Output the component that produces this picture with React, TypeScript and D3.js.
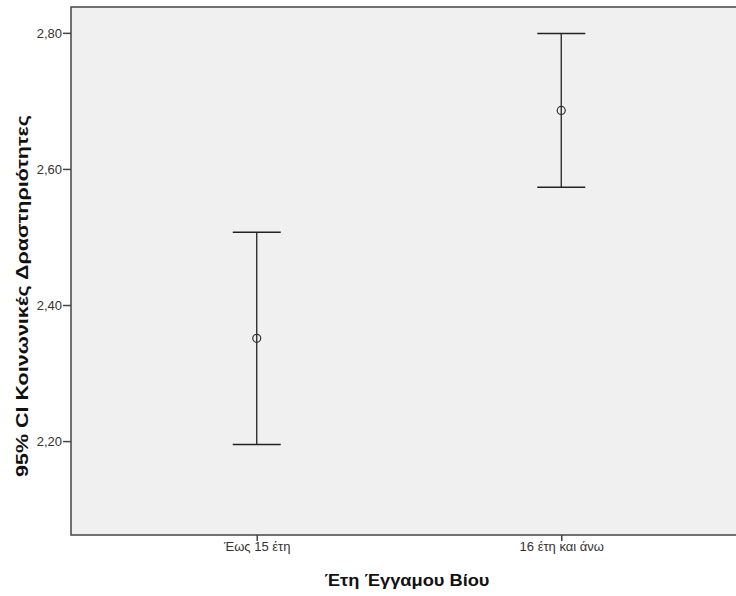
import React, { useRef, useEffect } from "react";
import * as d3 from "d3";

const categories = ["Έως 15 έτη", "16 έτη και άνω"];
const means = [2.351, 2.686];
const lower = [2.195, 2.573];
const upper = [2.507, 2.799];
const yTicks = [2.2, 2.4, 2.6, 2.8];

const App = () => {
  const svgRef = useRef<SVGSVGElement>(null);

  useEffect(() => {
    const svg = d3.select(svgRef.current);
    svg.selectAll("*").remove();

    const margin = { top: 7, left: 71, bottom: 535, right: 747 };

    const x = d3
      .scalePoint<string>()
      .domain(categories)
      .range([margin.left, margin.right])
      .padding(0.61);

    const y = d3
      .scaleLinear()
      .domain([2.062, 2.838])
      .range([margin.bottom, margin.top]);

    const font = "Arial, 'Liberation Sans', sans-serif";

    // plot background
    svg
      .append("rect")
      .attr("x", margin.left)
      .attr("y", margin.top)
      .attr("width", margin.right - margin.left)
      .attr("height", margin.bottom - margin.top)
      .attr("fill", "#f0f0f0")
      .attr("stroke", "#444")
      .attr("stroke-width", 1.5);

    // y axis
    const yAxis = svg
      .append("g")
      .attr("transform", `translate(${margin.left},0)`)
      .call(
        d3
          .axisLeft(y)
          .tickValues(yTicks)
          .tickSize(8)
          .tickFormat((d) => d3.format(".2f")(d as number).replace(".", ","))
      );
    yAxis.select(".domain").remove();
    yAxis.selectAll("line").attr("stroke", "#444").attr("stroke-width", 1.5);
    yAxis
      .selectAll("text")
      .attr("font-family", font)
      .attr("font-size", 13)
      .attr("fill", "#333")
      .attr("x", -9);

    // x axis
    const xAxis = svg
      .append("g")
      .attr("transform", `translate(0,${margin.bottom})`)
      .call(d3.axisBottom(x).tickSize(6));
    xAxis.select(".domain").remove();
    xAxis.selectAll("line").attr("stroke", "#444").attr("stroke-width", 1.5);
    xAxis
      .selectAll("text")
      .attr("font-family", font)
      .attr("font-size", 13)
      .attr("fill", "#333")
      .attr("y", 7);

    // error bars
    const capHalf = 24;
    const g = svg.append("g");
    categories.forEach((c, i) => {
      const cx = x(c) as number;
      g.append("line")
        .attr("x1", cx)
        .attr("x2", cx)
        .attr("y1", y(upper[i]))
        .attr("y2", y(lower[i]))
        .attr("stroke", "#222")
        .attr("stroke-width", 1.3);
      [upper[i], lower[i]].forEach((v) => {
        g.append("line")
          .attr("x1", cx - capHalf)
          .attr("x2", cx + capHalf)
          .attr("y1", y(v))
          .attr("y2", y(v))
          .attr("stroke", "#222")
          .attr("stroke-width", 1.6);
      });
      g.append("circle")
        .attr("cx", cx)
        .attr("cy", y(means[i]))
        .attr("r", 4)
        .attr("fill", "none")
        .attr("stroke", "#333")
        .attr("stroke-width", 1.2);
    });

    // axis titles
    svg
      .append("text")
      .attr("x", (margin.left + margin.right) / 2 - 2)
      .attr("y", 586)
      .attr("text-anchor", "middle")
      .attr("font-family", font)
      .attr("font-size", 16)
      .attr("font-weight", "bold")
      .attr("fill", "#111")
      .attr("textLength", 165)
      .attr("lengthAdjust", "spacingAndGlyphs")
      .text("Έτη Έγγαμου Βίου");

    svg
      .append("text")
      .attr("transform", `translate(28,296) rotate(-90)`)
      .attr("text-anchor", "middle")
      .attr("font-family", font)
      .attr("font-size", 16)
      .attr("font-weight", "bold")
      .attr("fill", "#111")
      .attr("textLength", 362)
      .attr("lengthAdjust", "spacingAndGlyphs")
      .text("95% CI Κοινωνικές Δραστηριότητες");
  }, []);

  return (
    <svg
      ref={svgRef}
      width={736}
      height={596}
      style={{ position: "absolute", left: 0, top: 0, background: "#fff" }}
    ></svg>
  );
};

export default App;
